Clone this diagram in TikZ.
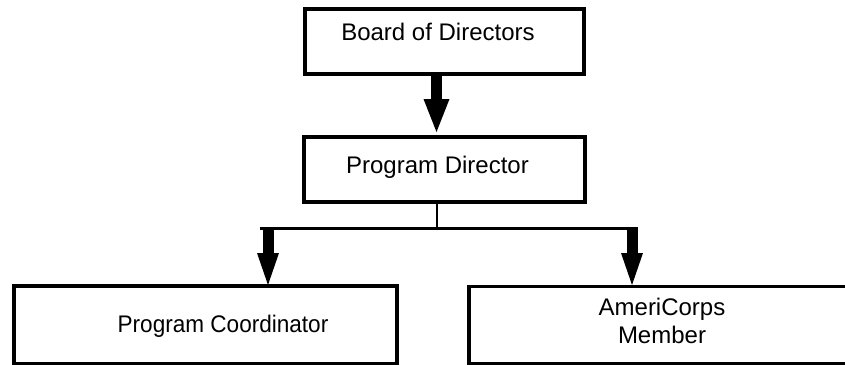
\documentclass[tikz,border=0pt]{standalone}
\usepackage{fontspec}
\setmainfont{Liberation Sans}
\newfontfamily\narrowsans[FakeStretch=0.94]{Liberation Sans}
\usetikzlibrary{arrows.meta}
\begin{document}
\begin{tikzpicture}[x=1pt,y=-1pt,
  box/.style={draw=black,line width=4pt,fill=white},
  lowbox/.style={draw=black,line width=3.5pt},
  lbl/.style={font=\fontsize{24}{28}\selectfont,anchor=base,inner sep=0pt},
  bigarrow/.style={line width=11.5pt,-{Triangle[width=26pt,length=33pt,line width=0pt]}},
  smallarrow/.style={line width=11pt,-{Triangle[width=22pt,length=32pt,line width=0pt]}},
  bus/.style={line width=2.5pt}]
\useasboundingbox (0,0) rectangle (845,364);
\clip (0,0) rectangle (845,364);
% boxes
\draw[box] (305,9) rectangle (584,74);
\draw[box] (304,136.5) rectangle (584.5,202);
\draw[lowbox] (14,286) rectangle (397,363.5);
\draw[lowbox] (469,286.5) rectangle (860,363.5);
% texts
\node[lbl] (tboard) at (438,40) {Board of Directors};
\node[lbl] (tpd) at (437.5,173.3) {Program Director};
\node[lbl,font=\narrowsans\fontsize{24}{28}\selectfont] (tcoord) at (223,332) {Program Coordinator};
\node[lbl] (tam1) at (662,315) {AmeriCorps};
\node[lbl] (tam2) at (662,343) {Member};
% connectors
\coordinate (bsouth) at (436.5,76);
\coordinate (pdnorth) at (436.5,132);
\coordinate (pdsouth) at (437,204);
\coordinate (j) at (437,228.5);
\coordinate (bl) at (260,228.5);
\coordinate (br) at (638,228.5);
\coordinate (la) at (268,229.5);
\coordinate (ra) at (632,229.5);
\coordinate (coordnorth) at (268,285);
\coordinate (amnorth) at (632,285);
\draw[bigarrow] (bsouth) -- (pdnorth);
\draw[bus] (pdsouth) -- (j);
\draw[bus] (bl) -- (br);
\draw[smallarrow] (la) -- (coordnorth);
\draw[smallarrow] (ra) -- (amnorth);
\end{tikzpicture}
\end{document}
